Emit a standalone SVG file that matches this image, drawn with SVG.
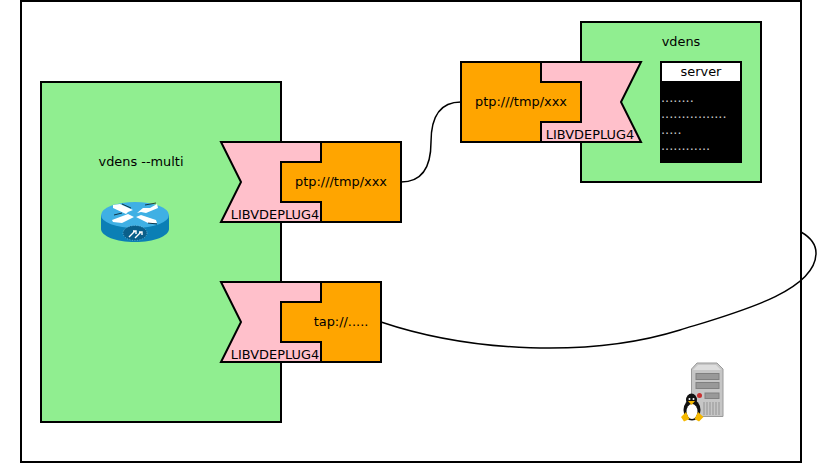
<svg xmlns="http://www.w3.org/2000/svg" width="817" height="463" viewBox="0 0 817 463">
<style>
text{font-family:"DejaVu Sans",sans-serif;font-size:12.9px;fill:#000}
.b{stroke:#000;stroke-width:2}
.g{fill:#90ee90}.p{fill:#ffc0cb}.o{fill:#ffa500}
.c{fill:none;stroke:#000;stroke-width:1.5}
.m{text-anchor:middle}
text.d{fill:#ccc}
</style>
<rect width="817" height="463" fill="#fff"/>
<rect id="frame" x="21" y="1" width="780" height="461" fill="#fff" class="b"/>
<g id="host-multi"><rect x="41" y="82" width="240" height="340" class="g b"/><text x="141" y="166" class="m">vdens --multi</text></g>
<g id="router">
<path d="M101 215V229C101 236 116 242 135 242C154 242 169 236 169 229V215Z" fill="#0b7fb5"/>
<ellipse cx="135" cy="215" rx="34" ry="13" fill="#3fb0e4"/>
<ellipse cx="135" cy="233" rx="12" ry="7.500" fill="#0a5f8a" stroke="#7fc4e4" stroke-width=".7" stroke-dasharray="1 1.500"/>
<path d="M113 205L120 204L133 210L128 212L126 214L113 208ZM137 213L143 208L150 208L157 204L158 208L146 213L141 212ZM112 220L128 214L134 217L128 220L122 223L113 222ZM136 217L141 215L156 220L157 223L148 223Z" fill="#fff"/>
<path d="M122 204L131 208M145 205L156 203M114 215L122 213M148 223L157 224" stroke="#000" stroke-width=".7"/>
<path d="M129 237L135 231M133 231H136V234M135 238L141 232M139 232H142V235" stroke="#fff" stroke-width="1.400" fill="none"/>
</g>
<g id="plug-left-top"><path d="M221 142H321V222H221L241 182Z" class="p b"/><path d="M281 162H321V142H401V222H321V202H281Z" class="o b"/><text x="341" y="186" class="m">ptp:///tmp/xxx</text><text x="275" y="219" class="m">LIBVDEPLUG4</text></g>
<g id="plug-left-bottom"><path d="M221 282H321V362H221L241 322Z" class="p b"/><path d="M281 302H321V282H381V362H321V342H281Z" class="o b"/><text x="341" y="326" class="m">tap://.....</text><text x="275" y="359" class="m">LIBVDEPLUG4</text></g>
<g id="host-server"><rect x="581" y="22" width="180" height="160" class="g b"/><text x="681" y="46" class="m">vdens</text></g>
<g id="plug-right"><path d="M641 62H541V142H641L621 102Z" class="p b"/><path d="M461 62H541V82H581V122H541V142H461Z" class="o b"/><text x="521" y="106" class="m">ptp:///tmp/xxx</text><text x="590" y="139" class="m">LIBVDEPLUG4</text></g>
<g id="server"><rect x="661" y="62" width="80" height="100" fill="#000" stroke="#000" stroke-width="2"/><rect x="662" y="63" width="78" height="18" fill="#fff"/><text x="701" y="76" class="m">server</text>
<text x="661" y="102" class="d">........</text><text x="661" y="118" class="d">................</text><text x="661" y="134" class="d">.....</text><text x="661" y="150" class="d">............</text></g>
<g id="linux-server">
<path d="M691.500 369L697 363H717L723 369V416.500H691.500Z" fill="#c6c6c6" stroke="#9a9a9a"/>
<path d="M693 370L698 365H716L721 370Z" fill="#ddd"/>
<rect x="696" y="373.500" width="23" height="6" fill="#999" stroke="#808080"/><rect x="696" y="382.500" width="23" height="6" fill="#999" stroke="#808080"/><rect x="705" y="393" width="14" height="5.500" fill="#999" stroke="#808080"/>
<circle cx="699.500" cy="395.500" r="2.500" fill="#c83030"/>
<path d="M704 402V415M707 402V415M710 402V415M713 402V415M716 402V415M719 402V415" stroke="#a5a5a5" stroke-width="1.500"/>
<ellipse cx="692" cy="410" rx="8.500" ry="10.500" fill="#111"/><ellipse cx="691.500" cy="400" rx="5.500" ry="6.500" fill="#111"/><ellipse cx="692" cy="411.500" rx="5.500" ry="7.500" fill="#fff"/><path d="M688 401L695 401L691.500 405Z" fill="#f5b800"/>
<circle cx="689.500" cy="399" r="1" fill="#fff"/><circle cx="693.500" cy="399" r="1" fill="#fff"/>
<path d="M681 417L686 412L689.500 419L684 421.500ZM694.500 419L698 412L703.500 417L699 421.500Z" fill="#f5b800"/>
</g>
<g id="connectors"><path class="c" d="M401 182C422 182 431 168 431 142C431 116 440 102 461 102"/><path class="c" d="M381 322C470 352 590 358 680 330C735 313 816 292 816 253C816 243 808 236 801 232"/></g>
</svg>
